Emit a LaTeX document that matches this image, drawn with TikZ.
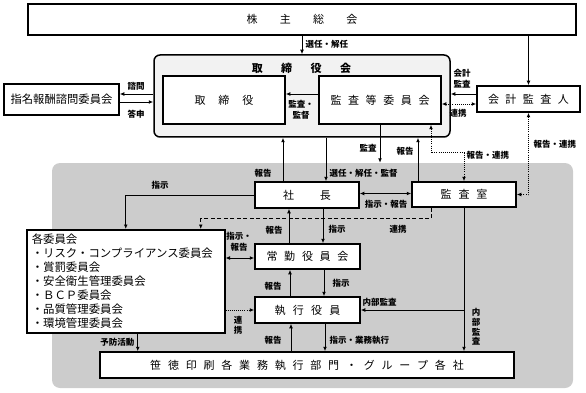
\documentclass[tikz,border=0pt]{standalone}
\usepackage{fontspec}
\setmainfont{Noto Sans CJK JP}
\usetikzlibrary{arrows.meta}
\definecolor{execgray}{RGB}{204,204,204}
\definecolor{bodfill}{RGB}{242,242,242}
\newcommand\boxfont{\fontsize{11pt}{12pt}\selectfont}
\newcommand\nomfont{\fontsize{11.3pt}{12pt}\selectfont}
\newcommand\listfont{\fontsize{11.4pt}{14pt}\selectfont}
\newcommand\titlefont{\fontsize{11pt}{12pt}\selectfont\bfseries}
\newcommand\lblfont{\fontsize{8.5pt}{11pt}\selectfont\bfseries}
\newcommand\vlblfont{\fontsize{8.5pt}{9.8pt}\selectfont\bfseries}
\def\spacedtext#1#2{\def\sptgap{#1}\sptloop#2\sptend}
\def\sptloop#1#2\sptend{#1\ifx\relax#2\relax\else\hspace{\sptgap}\sptloop#2\sptend\fi}
\tikzset{
  box/.style={draw, line width=1.5pt, fill=white, inner sep=0pt, font=\boxfont},
  lbl/.style={font=\lblfont, inner sep=0.5pt, align=center},
  arr/.style={-{Latex[length=4.5pt,width=3.8pt]}, line width=0.9pt},
  darr/.style={{Latex[length=4.5pt,width=3.8pt]}-{Latex[length=4.5pt,width=3.8pt]}, line width=0.9pt},
  dotl/.style={dash pattern=on 0.9pt off 1.2pt},
  dashl/.style={dash pattern=on 4pt off 2.5pt},
}
\begin{document}
\begin{tikzpicture}[x=1pt,y=-1pt]
\useasboundingbox (0,0) rectangle (586,393);
% executive region
\node[fill=execgray, rounded corners=8pt, minimum width=521pt, minimum height=225pt, inner sep=0pt] (exec) at (312.5,275.5) {};
% boxes
\node[box, minimum width=548pt, minimum height=31pt] (sh) at (302,19.5) {\spacedtext{22.3pt}{株主総会}};
\node[draw, line width=1.5pt, fill=bodfill, rounded corners=6pt, minimum width=296pt, minimum height=82pt, inner sep=0pt] (bod) at (302,96) {};
\node[font=\titlefont, inner sep=0pt] (bodt) at (301.5,68) {\spacedtext{18.5pt}{取締役会}};
\node[box, minimum width=122pt, minimum height=48pt] (tor) at (224,100) {\spacedtext{13pt}{取締役}};
\node[box, minimum width=122pt, minimum height=48pt] (ac) at (380,100) {\spacedtext{6.6pt}{監査等委員会}};
\node[box, minimum width=103pt, minimum height=26pt] (aud) at (528.5,99) {\spacedtext{6.5pt}{会計監査人}};
\node[box, minimum width=115pt, minimum height=31pt, font=\nomfont] (nom) at (61.5,99.5) {指名報酬諮問委員会};
\node[box, minimum width=104pt, minimum height=26pt] (pres) at (307,195) {\spacedtext{26pt}{社長}};
\node[box, minimum width=104pt, minimum height=25pt] (iaa) at (464,194.5) {\spacedtext{7pt}{監査室}};
\node[box, minimum width=105pt, minimum height=25pt] (jok) at (307.5,256.5) {\spacedtext{6.75pt}{常勤役員会}};
\node[box, minimum width=105pt, minimum height=26pt] (exe) at (307.5,310) {\spacedtext{7.3pt}{執行役員}};
\node[box, minimum width=414pt, minimum height=26pt] (grp) at (307,365) {\spacedtext{6.8pt}{笹徳印刷各業務執行部門・グループ各社}};
\node[box, anchor=north west, text width=188pt, inner xsep=5pt, minimum height=103pt, align=left, font=\listfont] (com) at (26,229) {各委員会\\・リスク・コンプライアンス委員会\\・賞罰委員会\\・安全衛生管理委員会\\・ＢＣＰ委員会\\・品質管理委員会\\・環境管理委員会};
% shareholders
\draw[arr] (sh.south) -- (sh.south |- bod.north);
\node[lbl, anchor=west] at (305,44) {選任・解任};
\draw[arr] (aud.north |- sh.south) -- (aud.north);
% nomination committee
\coordinate (nA) at ([yshift=5.5pt]nom.east);
\coordinate (nB) at ([yshift=-2.5pt]nom.east);
\draw[arr] (nA -| bod.west) -- (nA);
\draw[arr] (nB) -- (nB -| bod.west);
\node[lbl] at (136,86) {諮問};
\node[lbl] at (136,114) {答申};
% audit committee -> directors
\coordinate (aA) at ([yshift=6pt]ac.west);
\draw[arr] (aA) -- (aA -| tor.east);
\node[lbl] at (301,110) {監査・\\監督};
% accounting auditor
\coordinate (uA) at ([yshift=5pt]aud.west);
\coordinate (uB) at ([yshift=-5pt]aud.west);
\draw[arr] (uA) -- (uA -| bod.east);
\draw[darr, dotl] (uB) -- (uB -| ac.east);
\node[lbl] at (462,79) {会計\\監査};
\node[lbl] at (458,113) {連携};
% president <-> board
\coordinate (pA) at ([xshift=-24pt]pres.north);
\coordinate (pB) at ([xshift=19pt]pres.north);
\draw[arr] (pA) -- (pA |- bod.south);
\draw[arr] (pB |- bod.south) -- (pB);
\node[lbl] at (263,173) {報告};
\node[lbl, anchor=west] at (329,173) {選任・解任・監督};
% audit arrow into executive region
\draw[arr] (ac.south) -- (ac.south |- exec.north);
\node[lbl] at (368,148) {監査};
% internal audit office -> board
\coordinate (iA) at ([xshift=-46pt]iaa.north);
\draw[arr] (iA) -- (iA |- bod.south);
\node[lbl] at (405,151) {報告};
% dotted audit committee <-> internal audit
\coordinate (acB) at ([xshift=51pt]ac.south);
\draw[darr, dotl] (acB) -- ++(0,28) -| (iaa.north);
\node[lbl, anchor=west] at (466,155) {報告・連携};
% dotted accounting auditor <-> internal audit
\draw[darr, dotl] (aud.south) |- (iaa.east);
\node[lbl, anchor=west] at (533,144) {報告・連携};
% president <-> internal audit
\coordinate (pC) at ([yshift=1.5pt]pres.east);
\draw[darr] (pC) -- (pC -| iaa.west);
\node[lbl] at (386,204) {指示・報告};
% dashed cooperation
\coordinate (iB) at ([xshift=-33pt]iaa.south);
\coordinate (cA) at ([xshift=75pt]com.north);
\draw[arr, dashl] (iB) -- ++(0,11) -| (cA);
\node[lbl] at (398,229) {連携};
% president -> committees
\draw[arr] (pres.west) -| (com.north);
\node[lbl] at (160,185) {指示};
% president <-> standing board
\coordinate (pD) at ([xshift=16pt]pres.south);
\coordinate (pE) at ([xshift=-18pt]pres.south);
\draw[arr] (pD) -- (pD |- jok.north);
\draw[arr] (pE |- jok.north) -- (pE);
\node[lbl] at (337,229) {指示};
\node[lbl] at (274,230) {報告};
% committees <-> standing board
\coordinate (jA) at ([yshift=-1.5pt]jok.west);
\draw[darr] (jA -| com.east) -- (jA);
\node[lbl] at (239,242) {指示・\\報告};
% standing board <-> executive officers
\coordinate (jB) at ([xshift=16.5pt]jok.south);
\coordinate (jC) at ([xshift=-17.5pt]jok.south);
\draw[arr] (jB) -- (jB |- exe.north);
\draw[arr] (jC |- exe.north) -- (jC);
\node[lbl] at (341,283) {指示};
\node[lbl] at (273,286) {報告};
% committees -> executive officers
\draw[arr, dotl] (exe.west -| com.east) -- (exe.west);
\node[lbl, font=\vlblfont] at (238,325) {連\\携};
% internal audit
\draw[arr] (iaa.south) -- (iaa.south |- grp.north);
\coordinate (iC) at (iaa.south |- exe.east);
\draw[arr] (iC) -- (exe.east);
\node[lbl, anchor=west] at (362,302) {内部監査};
\node[lbl, font=\vlblfont] at (476,327) {内\\部\\監\\査};
% executive officers <-> group
\coordinate (eA) at ([xshift=17.5pt]exe.south);
\coordinate (eB) at ([xshift=-16.5pt]exe.south);
\draw[arr] (eA) -- (eA |- grp.north);
\draw[arr] (eB |- grp.north) -- (eB);
\node[lbl, anchor=west] at (329,340) {指示・業務執行};
\node[lbl] at (273,340) {報告};
% committees -> group
\coordinate (cB) at ([xshift=12pt]com.south);
\draw[arr] (cB) -- (cB |- grp.north);
\node[lbl, anchor=east] at (135,342) {予防活動};
\end{tikzpicture}
\end{document}
